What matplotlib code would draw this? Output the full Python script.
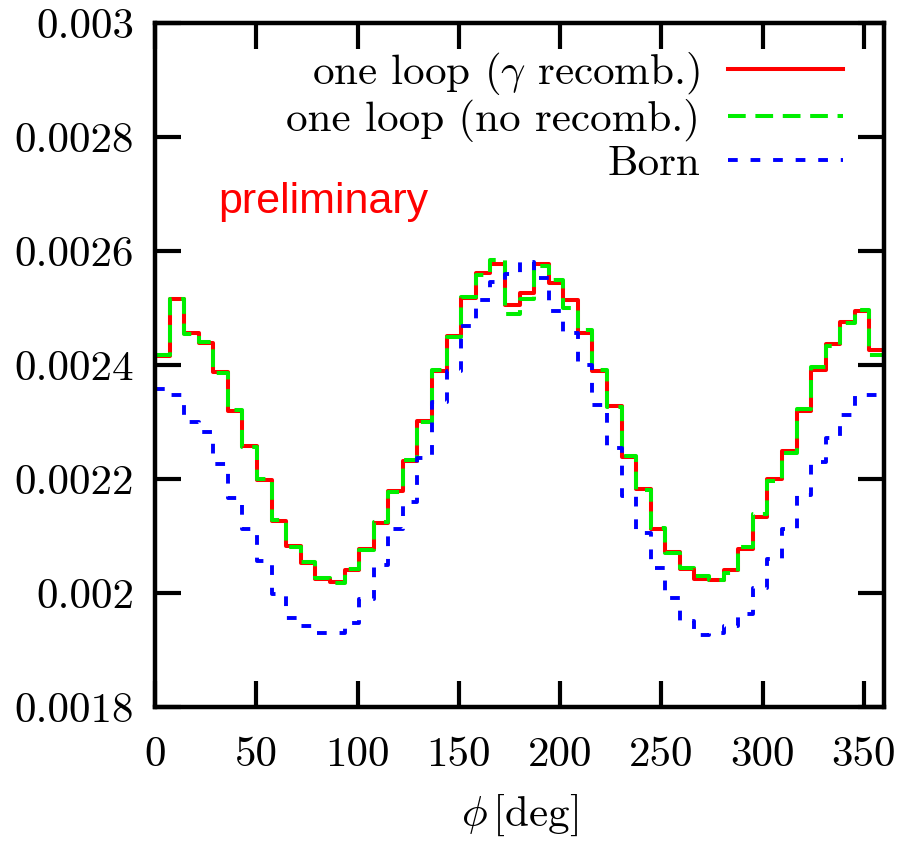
import numpy as np
import matplotlib
matplotlib.use("Agg")
import matplotlib.pyplot as plt

plt.rcParams['font.family'] = ['cmr10']
plt.rcParams['mathtext.fontset'] = 'cm'
plt.rcParams['axes.formatter.use_mathtext'] = True

# 50 bins de 7.2 grados entre 0 y 360
bordes = np.linspace(0, 360, 51)

one_loop_gamma = [
    0.002415, 0.002515, 0.002457, 0.002438, 0.002388, 0.002319, 0.002258, 0.002199, 0.002126, 0.002082,
    0.002053, 0.002024, 0.002020, 0.002040, 0.002077, 0.002123, 0.002179, 0.002232, 0.002302, 0.002389,
    0.002451, 0.002518, 0.002562, 0.002578, 0.002506, 0.002526, 0.002577, 0.002543, 0.002514, 0.002456,
    0.002389, 0.002328, 0.002239, 0.002182, 0.002112, 0.002072, 0.002042, 0.002024, 0.002023, 0.002040,
    0.002078, 0.002134, 0.002200, 0.002249, 0.002319, 0.002392, 0.002436, 0.002475, 0.002495, 0.002426,
]
one_loop_norecomb = [
    0.002418, 0.002516, 0.002455, 0.002440, 0.002386, 0.002321, 0.002256, 0.002200, 0.002128, 0.002080,
    0.002054, 0.002027, 0.002018, 0.002042, 0.002075, 0.002125, 0.002177, 0.002234, 0.002300, 0.002391,
    0.002449, 0.002520, 0.002558, 0.002584, 0.002489, 0.002515, 0.002573, 0.002550, 0.002500, 0.002462,
    0.002391, 0.002326, 0.002241, 0.002180, 0.002114, 0.002070, 0.002044, 0.002029, 0.002022, 0.002035,
    0.002081, 0.002138, 0.002197, 0.002246, 0.002323, 0.002397, 0.002433, 0.002473, 0.002496, 0.002418,
]
born = [
    0.002358, 0.002347, 0.002300, 0.002282, 0.002227, 0.002167, 0.002112, 0.002056, 0.001998, 0.001957,
    0.001942, 0.001930, 0.001930, 0.001948, 0.001990, 0.002050, 0.002113, 0.002159, 0.002237, 0.002335,
    0.002390, 0.002468, 0.002514, 0.002546, 0.002560, 0.002580, 0.002553, 0.002495, 0.002457, 0.002400,
    0.002329, 0.002255, 0.002170, 0.002106, 0.002043, 0.001992, 0.001951, 0.001927, 0.001929, 0.001942,
    0.001963, 0.002009, 0.002059, 0.002112, 0.002172, 0.002230, 0.002272, 0.002312, 0.002347, 0.002347,
]

xticks = [0, 50, 100, 150, 200, 250, 300, 350]
yticks = [0.0018, 0.0020, 0.0022, 0.0024, 0.0026, 0.0028, 0.0030]
ytick_labels = ["0.0018", "0.002", "0.0022", "0.0024", "0.0026", "0.0028", "0.003"]

fig = plt.figure(figsize=(8.97, 8.43), dpi=100)
ax = fig.add_axes([155 / 897, 1 - 707 / 843, 729 / 897, 684 / 843])


def escalon(v):
    # repetimos el último valor para que step cierre el último bin
    return np.append(v, v[-1])


ax.step(bordes, escalon(one_loop_gamma), where='post', color='#ff0000', lw=2.9,
        label=r'one loop ($\gamma$ recomb.)')
ax.step(bordes, escalon(one_loop_norecomb), where='post', color='#00ee00', lw=2.9,
        linestyle=(0, (4.4, 2.4)), label='one loop (no recomb.)')
ax.step(bordes, escalon(born), where='post', color='#0000ff', lw=2.8,
        linestyle=(0, (2.5, 3.3)), label='Born')

ax.set_xlim(0, 360)
ax.set_ylim(0.0018, 0.003)
ax.set_xticks(xticks)
ax.set_xticklabels([str(t) for t in xticks])
ax.set_yticks(yticks)
ax.set_yticklabels(ytick_labels)

ax.tick_params(direction='in', length=19, width=3.0, top=True, right=True,
               labelsize=31)
ax.tick_params(axis='y', pad=15)
ax.tick_params(axis='x', pad=21)
for s in ax.spines.values():
    s.set_linewidth(3.2)

ax.set_xlabel(r'$\phi\,[\mathrm{deg}]$', fontsize=31, labelpad=14)

ax.text(0.087, 0.722, 'preliminary', transform=ax.transAxes, color='#ff0000',
        fontsize=31, family='Liberation Sans', va='baseline', ha='left')

leg = ax.legend(loc='upper right', bbox_to_anchor=(0.944, 0.961), frameon=False,
                fontsize=31, markerfirst=False, handlelength=2.67,
                handletextpad=0.65, labelspacing=0.06, borderpad=0,
                borderaxespad=0)

fig.savefig('out.png', dpi=100)
